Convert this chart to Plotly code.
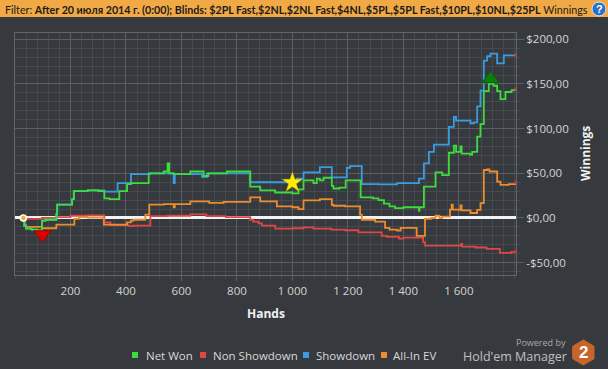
import plotly.graph_objects as go

# ---------------- data ----------------
x_tick_vals = [200, 400, 600, 800, 1000, 1200, 1400, 1600]
x_tick_text = ["200", "400", "600", "800", "1 000", "1 200", "1 400", "1 600"]
y_tick_vals = [-50, 0, 50, 100, 150, 200]
y_tick_text = ["-$50,00", "$0,00", "$50,00", "$100,00", "$150,00", "$200,00"]

net_hands = [30, 34, 40, 60, 80, 97, 110, 149, 152, 206, 212, 262, 300, 322, 340, 376, 404, 418,
             482, 536, 550, 556, 572, 632, 674, 680, 697, 764, 848, 884, 938, 1000, 1022, 1040,
             1076, 1088, 1099, 1112, 1142, 1148, 1170, 1192, 1240, 1246, 1290, 1310, 1330, 1350,
             1370, 1400, 1430, 1456, 1458, 1474, 1516, 1540, 1564, 1582, 1590, 1606, 1610, 1640,
             1648, 1666, 1678, 1690, 1708, 1725, 1738, 1750, 1768, 1790, 1806]
net_won = [0, -9, -12, -13, -14, -3, -2, 4, 15, 21, 30, 31, 30, 22, 21, 30, 38, 39,
           50, 52, 61, 50, 49, 52, 52, 47, 50, 52, 35, 31, 28.5, 27.5, 32, 42,
           39, 44, 42, 45, 36, 33, 34, 42, 42, 23, 22, 20, 16, 13,
           11, 12, 12, 8, 12, 35, 51, 48, 73, 81, 74, 80, 72, 71,
           74, 91, 105, 142, 150, 148, 142, 133, 141, 143, 144.4]

sd_hands = [30, 34, 40, 60, 80, 97, 110, 149, 152, 206, 212, 262, 300, 322, 370, 418, 482, 488,
            572, 576, 632, 674, 692, 848, 1016, 1040, 1099, 1142, 1196, 1208, 1250, 1310, 1377,
            1456, 1474, 1492, 1510, 1564, 1582, 1590, 1642, 1654, 1666, 1678, 1690, 1702, 1714,
            1738, 1762, 1806]
showdown = [0, -9, -12, -13, -14, -3, -2, 4, 15, 21, 30, 31, 31, 29.6, 39, 49, 49, 50,
            39, 49, 49, 46, 50, 40, 44, 51, 57, 45.5, 56, 58, 38, 37.5, 39,
            44, 61, 74, 82, 102, 113, 109, 106, 107, 125, 142.5, 176, 181, 184,
            173, 182, 182.5]

nsd_hands = [30, 34, 97, 149, 200, 260, 322, 344, 409, 427, 488, 550, 632, 690, 760, 848, 859,
             878, 890, 938, 1000, 1040, 1076, 1140, 1190, 1238, 1322, 1340, 1384, 1400, 1471,
             1478, 1600, 1608, 1612, 1660, 1700, 1748, 1790, 1806]
non_showdown = [0, -1, 0, 1, 2.5, 3, -5, -8, -9, -8.5, 2, 2.5, 4, 2, 1, -2, -4,
                -6, -8.5, -12, -11.5, -10.5, -12, -13, -13.7, -16, -20, -21, -23, -22, -27,
                -31, -31, -29, -32, -33, -34.5, -39, -38, -38]

ev_hands = [30, 34, 40, 97, 149, 214, 230, 262, 320, 404, 418, 427, 470, 484, 536, 572, 576,
            632, 700, 752, 848, 884, 944, 1000, 1022, 1040, 1099, 1142, 1148, 1190, 1244, 1250,
            1298, 1334, 1350, 1377, 1390, 1448, 1478, 1500, 1516, 1530, 1540, 1568, 1574, 1578,
            1600, 1606, 1610, 1642, 1666, 1678, 1690, 1702, 1710, 1738, 1750, 1780, 1806]
allin_ev = [0, -8, -10, -11.5, -7.4, -1, 1, 0.5, -7.4, -5, -3, -2, 3.7, 15, 15.5, 12, 15.5,
            18.5, 17, 18, 23, 18.5, 13, 12, 10, 19.6, 21, 14.8, 13.7, 13, 3.7, -2,
            -4, -11, -13, -14, -11, -20, -1, 0, 2.5, 0, 1.5, 9.3, 14.8, 9.3,
            9, 14, 8.5, 5.6, 9, 16.7, 53.7, 54.4, 52, 40.7, 37, 38, 40]

marker_hands = [99, 1000, 1714]
marker_vals = [-18.5, 39.6, 155.6]

series_names = ["Net Won", "Non Showdown", "Showdown", "All-In EV"]
series_colors = ["#3ddc3d", "#e04646", "#3a9ce0", "#ec8c2e"]

# ---------------- figure ----------------
W, H = 608, 369
L, R, T, B = 15, 516, 33, 275


def px(xp):
    return (xp - L) / (R - L)


def py(yp):
    return (B - yp) / (B - T)


fig = go.Figure()
draw = [(nsd_hands, non_showdown, series_colors[1]),
        (ev_hands, allin_ev, series_colors[3]),
        (sd_hands, showdown, series_colors[2]),
        (net_hands, net_won, series_colors[0])]
for hx, vy, col in draw:
    fig.add_trace(go.Scatter(x=hx, y=vy, mode="lines", line=dict(color=col, width=1.8, shape="hv"),
                             showlegend=False, hoverinfo="skip"))
    fig.add_trace(go.Scatter(x=[hx[-1]], y=[vy[-1]], mode="markers",
                             marker=dict(color="#ff2020", size=3, symbol="square"),
                             showlegend=False, hoverinfo="skip"))

# start marker
fig.add_trace(go.Scatter(x=[net_hands[0]], y=[net_won[0]], mode="markers",
                         marker=dict(color="#f0b030", size=6, line=dict(color="white", width=1.5)),
                         showlegend=False, hoverinfo="skip"))
# min / star / max markers
fig.add_trace(go.Scatter(x=[marker_hands[0]], y=[marker_vals[0]], mode="markers",
                         marker=dict(color="#e00000", size=15, symbol="triangle-down",
                                     line=dict(color="#a00000", width=1)),
                         showlegend=False, hoverinfo="skip"))
fig.add_trace(go.Scatter(x=[marker_hands[1]], y=[marker_vals[1]], mode="markers",
                         marker=dict(color="#ffee00", size=15, symbol="star",
                                     line=dict(color="#d0c000", width=0.5)),
                         showlegend=False, hoverinfo="skip"))
fig.add_trace(go.Scatter(x=[marker_hands[2]], y=[marker_vals[2]], mode="markers",
                         marker=dict(color="#0a7d0a", size=15, symbol="triangle-up",
                                     line=dict(color="#066006", width=1)),
                         showlegend=False, hoverinfo="skip"))

major_grid = "#5b5f63"
minor_grid = "#46494d"

fig.update_layout(
    width=W, height=H,
    margin=dict(l=L, r=W - R, t=T, b=H - B, pad=0),
    paper_bgcolor="#363a3e", plot_bgcolor="#363a3e",
    showlegend=False,
    font=dict(family="Open Sans, Noto Sans, sans-serif", size=11.5, color="#d4d4d4"),
    xaxis=dict(range=[0, 1806], tickmode="array", tickvals=x_tick_vals, ticktext=x_tick_text,
               showgrid=True, gridcolor=major_grid, gridwidth=1,
               ticks="outside", ticklen=5, tickcolor=major_grid,
               minor=dict(tickmode="linear", tick0=0, dtick=40, showgrid=True, gridcolor=minor_grid,
                          ticks="outside", ticklen=3, tickcolor=minor_grid),
               showline=True, mirror=True, linecolor="#62666a", linewidth=1,
               zeroline=False, tickfont=dict(size=11.5, color="#d4d4d4")),
    yaxis=dict(range=[-63.8, 207], side="right", tickmode="array", tickvals=y_tick_vals,
               ticktext=y_tick_text, showgrid=True, gridcolor=major_grid, gridwidth=1,
               ticks="outside", ticklen=7, tickcolor=major_grid,
               minor=dict(tickmode="linear", tick0=0, dtick=10, showgrid=True, gridcolor=minor_grid,
                          ticks="outside", ticklen=4, tickcolor=minor_grid),
               showline=True, mirror=True, linecolor="#62666a", linewidth=1,
               zeroline=True, zerolinecolor="#f2f2f2", zerolinewidth=2.5,
               tickfont=dict(size=11.5, color="#d4d4d4")),
)

shapes = []
annotations = []

# header bar
shapes.append(dict(type="rect", xref="paper", yref="paper", x0=px(0), x1=px(W), y0=py(17), y1=py(0),
                   fillcolor="#f0a945", line=dict(width=0), layer="above"))
annotations.append(dict(xref="paper", yref="paper", x=px(3), y=py(9), xanchor="left", yanchor="middle",
                        showarrow=False,
                        text="Filter: <b>After 20 июля 2014 г. (0:00); Blinds: $2PL Fast,$2NL,$2NL Fast,$4NL,"
                             "$5PL,$5PL Fast,$10PL,$10NL,$25PL</b> Winnings",
                        font=dict(family="Lato, sans-serif", size=10.7, color="#1b1b1b")))
# help icon
shapes.append(dict(type="circle", xref="paper", yref="paper", x0=px(592), x1=px(606), y0=py(16), y1=py(2),
                   fillcolor="#2d6fc2", line=dict(color="#dfe8f5", width=1)))
annotations.append(dict(xref="paper", yref="paper", x=px(599), y=py(9), xanchor="center", yanchor="middle",
                        showarrow=False, text="<b>?</b>",
                        font=dict(family="Liberation Sans, sans-serif", size=11, color="white")))

# axis titles
annotations.append(dict(xref="paper", yref="paper", x=px(265.5), y=py(313), xanchor="center",
                        yanchor="middle", showarrow=False, text="<b>Hands</b>",
                        font=dict(size=12, color="#f2f2f2")))
annotations.append(dict(xref="paper", yref="paper", x=px(585), y=py(154), xanchor="center",
                        yanchor="middle", showarrow=False, text="<b>Winnings</b>", textangle=-90,
                        font=dict(size=12, color="#f2f2f2")))

# legend
legend_sq = [132, 200, 303, 381]
legend_tx = [144, 210.5, 313.5, 391]
for name, col, sx, tx in zip(series_names, series_colors, legend_sq, legend_tx):
    shapes.append(dict(type="rect", xref="paper", yref="paper", x0=px(sx), x1=px(sx + 6),
                       y0=py(358), y1=py(352), fillcolor=col, line=dict(width=0)))
    annotations.append(dict(xref="paper", yref="paper", x=px(tx), y=py(355), xanchor="left",
                            yanchor="middle", showarrow=False, text=name,
                            font=dict(size=11.5, color="#d8d8d8")))

# branding
annotations.append(dict(xref="paper", yref="paper", x=px(568), y=py(342.5), xanchor="right",
                        yanchor="middle", showarrow=False, text="Powered by",
                        font=dict(size=9, color="#a8a8a8")))
annotations.append(dict(xref="paper", yref="paper", x=px(569), y=py(356.5), xanchor="right",
                        yanchor="middle", showarrow=False, text="Hold'em Manager",
                        font=dict(size=12.5, color="#c0c0c0")))
hex_pts = [(583.3, 340), (594, 346.3), (594, 358.7), (583.3, 365), (572.7, 358.7), (572.7, 346.3)]
path = "M " + " L ".join(f"{px(a):.5f},{py(b):.5f}" for a, b in hex_pts) + " Z"
shapes.append(dict(type="path", xref="paper", yref="paper", path=path, fillcolor="#c8652b",
                   line=dict(color="#c8652b", width=1)))
annotations.append(dict(xref="paper", yref="paper", x=px(583.3), y=py(352.5), xanchor="center",
                        yanchor="middle", showarrow=False, text="<b>2</b>",
                        font=dict(family="Liberation Sans, sans-serif", size=17, color="white")))

fig.update_layout(shapes=shapes, annotations=annotations)
fig.write_html("out.html", config={"displayModeBar": False},
               post_script="document.body.style.margin='0px';document.body.style.overflow='hidden';")
